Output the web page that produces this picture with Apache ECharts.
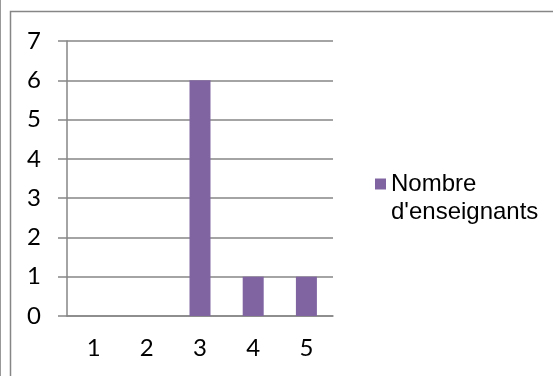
<!DOCTYPE html>
<html>
<head>
<meta charset="utf-8">
<script src="https://cdn.jsdelivr.net/npm/echarts@6/dist/echarts.min.js"></script>
<style>
  html, body { margin: 0; padding: 0; background: #fff; }
  #chart { width: 553px; height: 376px; }
</style>
</head>
<body>
<div id="chart"></div>
<script>
// donnees
const categories = ['1', '2', '3', '4', '5'];
const enseignants = [0, 0, 6, 1, 1];
const seriesName = "Nombre d'enseignants";

const chart = echarts.init(document.getElementById('chart'));
const axisGray = '#868686';

chart.setOption({
  animation: false,
  backgroundColor: '#fff',
  graphic: [
    // cadre du graphique
    { type: 'line', shape: { x1: 0.5, y1: 0, x2: 0.5, y2: 376 }, style: { stroke: '#999', lineWidth: 1 } },
    { type: 'rect', shape: { x: 10.5, y: 11.5, width: 560, height: 400 }, style: { fill: 'none', stroke: axisGray, lineWidth: 1.5 } }
  ],
  grid: { left: 67, right: 220, top: 41, bottom: 60 },
  legend: {
    left: 375,
    top: 142,
    padding: 0,
    itemWidth: 11,
    itemHeight: 11,
    itemGap: 0,
    icon: 'rect',
    // ligne vide au-dessus pour que le carre reste aligne sur "Nombre"
    formatter: () => ' \nNombre\nd\'enseignants',
    textStyle: { fontFamily: 'Liberation Sans', fontSize: 24, lineHeight: 28, color: '#000' }
  },
  xAxis: {
    type: 'category',
    data: categories,
    axisLine: { lineStyle: { color: axisGray, width: 1.5 } },
    axisTick: { length: 8, lineStyle: { color: axisGray, width: 1.5 } },
    axisLabel: { margin: 20, color: '#000', fontFamily: 'Lato', fontSize: 24 }
  },
  yAxis: {
    type: 'value',
    min: 0,
    max: 7,
    interval: 1,
    axisLine: { show: true, lineStyle: { color: axisGray, width: 1.5 } },
    axisTick: { show: true, length: 9, lineStyle: { color: axisGray, width: 1.5 } },
    splitLine: { lineStyle: { color: axisGray, width: 1.5 } },
    axisLabel: { margin: 26, color: '#000', fontFamily: 'Lato', fontSize: 24 }
  },
  series: [{
    name: seriesName,
    type: 'bar',
    data: enseignants,
    barWidth: 21,
    itemStyle: { color: '#8064A2' }
  }]
});
</script>
</body>
</html>
